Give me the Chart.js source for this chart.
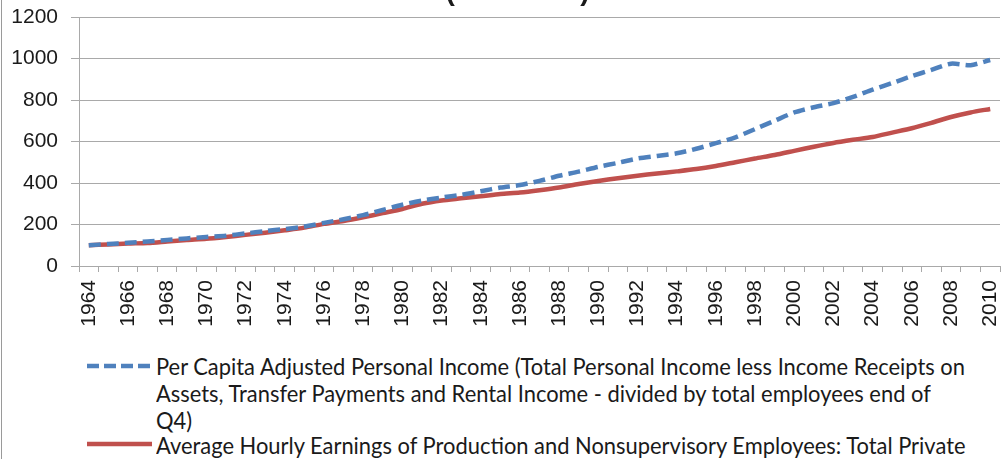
<!DOCTYPE html>
<html>
<head>
<meta charset="utf-8">
<script src="https://cdn.jsdelivr.net/npm/chart.js@4"></script>
<style>
  html, body { margin: 0; padding: 0; background: #ffffff; }
  body { width: 1003px; height: 459px; position: relative; overflow: hidden; }
  #frame { position: absolute; left: 1px; top: 0; width: 1px; height: 459px; background: #9a9a9a; z-index: 2; }
  #wrap { position: absolute; left: 0; top: -25px; width: 1035px; height: 361px; }
  .lg { position: absolute; left: 156px; font-family: 'Lato', 'Open Sans', sans-serif; font-size: 23px;
        color: #1a1a1a; white-space: nowrap; transform-origin: 0 0; line-height: 27px; }
  svg.sw { position: absolute; left: 86px; width: 68px; height: 10px; }
</style>
</head>
<body>
<div id="frame"></div>
<div id="wrap"><canvas id="c"></canvas></div>

<svg class="sw" style="top:361px" viewBox="0 0 68 10"><line x1="1" y1="5" x2="66" y2="5" stroke="#4F81BD" stroke-width="4.5" stroke-dasharray="12 5"/></svg>
<svg class="sw" style="top:439px" viewBox="0 0 68 10"><line x1="1" y1="5" x2="66" y2="5" stroke="#C0504D" stroke-width="4.5"/></svg>
<div class="lg" id="l1" style="top:353px"></div>
<div class="lg" id="l2" style="top:380px"></div>
<div class="lg" id="l3" style="top:407px"></div>
<div class="lg" id="l4" style="top:432px"></div>

<script>
// ---- data ----
const years = [
  '1964','1965','1966','1967','1968','1969','1970','1971','1972','1973',
  '1974','1975','1976','1977','1978','1979','1980','1981','1982','1983',
  '1984','1985','1986','1987','1988','1989','1990','1991','1992','1993',
  '1994','1995','1996','1997','1998','1999','2000','2001','2002','2003',
  '2004','2005','2006','2007','2008','2009','2010'
];
const perCapitaIncome = [
  100,106,112,118,125,133,140,146,157,168,
  178,190,208,225,245,270,295,315,330,343,
  360,378,390,410,435,455,478,497,518,530,
  543,565,592,620,660,700,740,765,785,815,
  850,882,915,945,975,968,993
];
const hourlyEarnings = [
  100,104,108,111,118,125,131,140,150,160,
  172,185,203,217,235,255,275,300,316,326,
  336,347,354,365,378,395,410,423,435,446,
  456,467,482,500,518,535,555,575,593,608,
  622,643,664,690,718,740,757
];
const yTicks = [0, 200, 400, 600, 800, 1000, 1200];
const titleText = '(1964=100)';
const seriesNames = [
  'Per Capita Adjusted Personal Income (Total Personal Income less Income Receipts on Assets, Transfer Payments and Rental Income - divided by total employees end of Q4)',
  'Average Hourly Earnings of Production and Nonsupervisory Employees: Total Private'
];
const legendLines = [
  'Per Capita Adjusted Personal Income (Total Personal Income less Income Receipts on',
  'Assets, Transfer Payments and Rental Income - divided by total employees end of',
  'Q4)',
  'Average Hourly Earnings of Production and Nonsupervisory Employees: Total Private'
];

// ---- legend text (HTML) ----
['l1','l2','l3','l4'].forEach((id, i) => { document.getElementById(id).textContent = legendLines[i]; });
const l1 = document.getElementById('l1');
const sx = 809 / l1.getBoundingClientRect().width;
['l1','l2','l3','l4'].forEach(id => { document.getElementById(id).style.transform = 'scaleX(' + sx + ')'; });

// ---- chart ----
const gridColor = '#a9a9a9';
const tickFont = { family: "'Liberation Sans', Arial, sans-serif", size: 21 };

new Chart(document.getElementById('c'), {
  type: 'line',
  data: {
    labels: years,
    datasets: [
      { label: seriesNames[0], data: perCapitaIncome, borderColor: '#4F81BD', backgroundColor: '#4F81BD',
        borderWidth: 4.5, borderDash: [12, 6], pointRadius: 0, tension: 0.25, fill: false },
      { label: seriesNames[1], data: hourlyEarnings, borderColor: '#C0504D', backgroundColor: '#C0504D',
        borderWidth: 4.5, pointRadius: 0, tension: 0.25, fill: false }
    ]
  },
  options: {
    responsive: true,
    maintainAspectRatio: false,
    animation: false,
    layout: { padding: { left: 0, right: 0, top: 0, bottom: 0 } },
    plugins: {
      legend: { display: false },
      tooltip: { enabled: false },
      title: {
        display: true, text: titleText, color: '#1a1a1a',
        font: { family: "'Liberation Sans', Arial, sans-serif", size: 28, weight: 'bold', lineHeight: 1.2 },
        padding: { top: 0, bottom: 8.4 }
      }
    },
    scales: {
      x: {
        offset: true,
        grid: { offset: true, drawOnChartArea: false, drawTicks: true, tickLength: 6, color: gridColor },
        border: { color: gridColor, width: 1 },
        ticks: {
          autoSkip: false, minRotation: 90, maxRotation: 90, padding: 8,
          color: '#1a1a1a', font: tickFont,
          callback: function (val, idx) { return idx % 2 === 0 ? years[idx] : ''; }
        },
        afterFit: function (scale) { scale.height = 70; }
      },
      y: {
        min: 0, max: 1200,
        afterBuildTicks: function (scale) { scale.ticks = yTicks.map(v => ({ value: v })); },
        grid: { color: gridColor, tickLength: 8, drawTicks: true },
        border: { color: gridColor, width: 1 },
        ticks: { padding: 13, color: '#1a1a1a', font: tickFont, callback: v => String(v) },
        afterFit: function (scale) { scale.width = 79; }
      },
      spacer: {
        type: 'linear', position: 'right', display: true,
        grid: { display: false, drawTicks: false }, border: { display: false },
        ticks: { display: false },
        afterFit: function (scale) { scale.width = 35; }
      }
    }
  }
});
</script>
</body>
</html>
